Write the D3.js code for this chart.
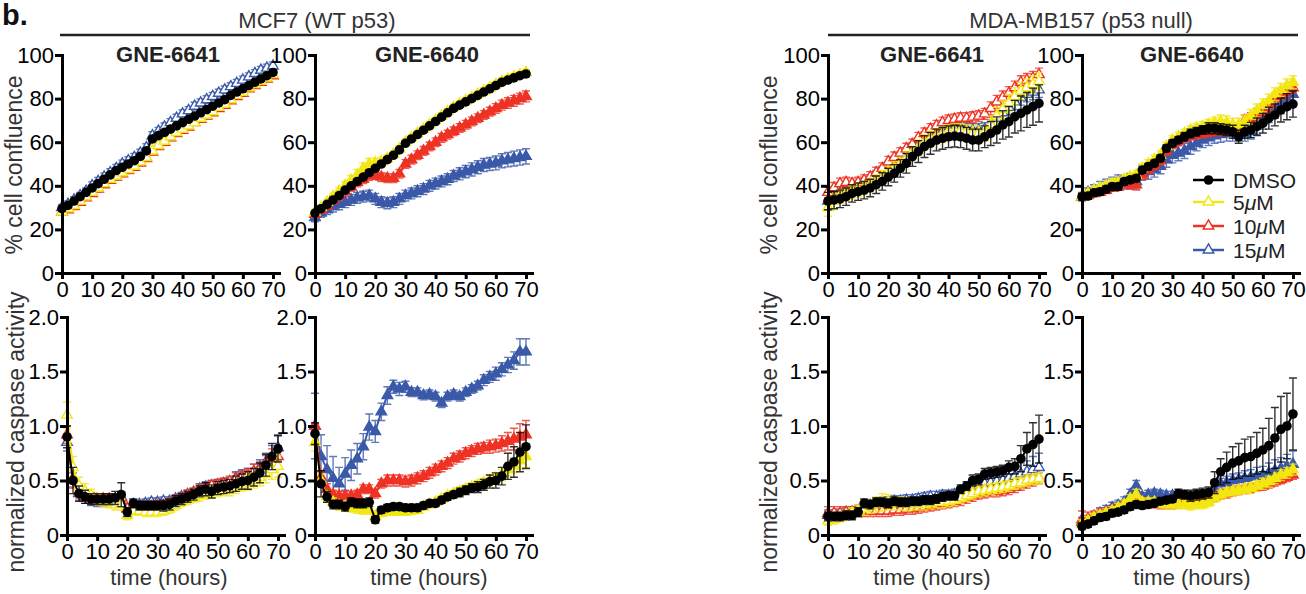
<!DOCTYPE html>
<html><head><meta charset="utf-8">
<script src="https://cdn.jsdelivr.net/npm/d3@7"></script>
<style>
body{margin:0;background:#fff;}
text{font-family:"Liberation Sans",Arial,Helvetica,sans-serif;}
</style></head><body>
<svg id="c" width="1306" height="594"></svg>
<script>
// ---------- shared labels ----------
const T = [0,2,4,6,8,10,12,14,16,18,20,22,24,26,28,30,32,34,36,38,40,42,44,46,48,50,52,54,56,58,60,62,64,66,68,70];
const seriesNames = ["DMSO","5μM","10μM","15μM"];
const seriesColors = ["#000000","#f3e711","#ee3224","#3a59a8"];
const groupTitles = ["MCF7 (WT p53)","MDA-MB157 (p53 null)"];
const compoundTitles = ["GNE-6641","GNE-6640","GNE-6641","GNE-6640"];
const confTicks = [0,20,40,60,80,100];
const caspTicks = [0,0.5,1.0,1.5,2.0];
const timeTicks = [0,10,20,30,40,50,60,70];

// ---------- MCF7 GNE-6641 confluence ----------
const m41cDMSO = [29.5,31,33,35,37,39,41,43,45,47,48.5,50,51.5,53.5,56,61.5,63,64.5,66,67.5,69,70.5,72,73.5,75,76.5,78,79.5,81.5,83,84.5,86,87.5,89,90.5,92];
const m41c5 = [28,29.5,31,33,35,37,39,41,43,44.5,46,47.5,49,51,53,56,58.5,60.5,62.5,64.5,66,67.5,69,71,72.5,74,76,77.5,79.5,81.5,83,85,86.5,88,89.5,91];
const m41c10 = [28,29,30.5,32.5,34.5,36.5,38.5,40.5,42.5,44,45.5,47,48.5,50.5,52.5,55.5,58,60,62,64,65.5,67,69,70.5,72,73.5,75.5,77,79,81,82.5,84.5,86,87.5,89,90.5];
const m41c15 = [30,31.5,33.5,35.5,37.5,40,42,44,46,48,50,51.5,53,55,57.5,63,65,67,69,71,73,74.5,76.5,78,79.5,81,82.5,84,85.5,87,88.5,90,91.5,93,94,95];
const m41cDMSOe = [1,1,1,1,1,1,1,1,1,1,1,1,1,1,1,1,1,1,1,1,1,1,1,1,1,1,1,1,1,1,1,1,1,1,1,1];
const m41c5e = [1.2,1.2,1.2,1.2,1.2,1.2,1.2,1.2,1.2,1.2,1.2,1.2,1.2,1.2,1.2,1.2,1.2,1.2,1.2,1.2,1.2,1.2,1.2,1.2,1.2,1.2,1.2,1.2,1.2,1.2,1.2,1.2,1.2,1.2,1.2,1.2];
const m41c10e = [1.2,1.2,1.2,1.2,1.2,1.2,1.2,1.2,1.2,1.2,1.2,1.2,1.2,1.2,1.2,1.2,1.2,1.2,1.2,1.2,1.2,1.2,1.2,1.2,1.2,1.2,1.2,1.2,1.2,1.2,1.2,1.2,1.2,1.2,1.2,1.2];
const m41c15e = [1.5,1.5,1.5,1.5,1.5,1.8,1.8,1.8,1.8,1.8,1.8,1.8,1.8,1.8,1.8,1.8,1.8,1.8,1.8,1.8,1.8,1.8,1.8,1.8,1.8,1.8,1.8,1.8,1.8,1.8,1.8,1.8,1.8,1.8,1.8,1.8];

// ---------- MCF7 GNE-6640 confluence ----------
const m40cDMSO = [27.5,29.5,31.5,33.5,35.5,38,40,42,44,46,48,50,52,54,56.5,59.5,61.5,63.5,65.5,67.5,69.5,71.5,73.5,75.5,77,78.5,80,81.5,83,84.5,86,87.5,88.5,89.5,90.5,91.3];
const m40c5 = [28,30,32.5,35,37.5,40,42.5,45,48,50,50.5,51,52.5,54.5,57,60,62,64,66,68,70,72,74,76,77.5,79,80.5,82,83.5,85,86.5,88,89,90,91,92];
const m40c10 = [27,29,31,33.5,35.5,37.5,39.5,41.5,43,44.5,45,44,43.5,43.5,45.5,50,52,54,56,58,60,62,63.5,65,66.5,68,69.5,71,72.5,74,75.5,77,78,79,80,81];
const m40c15 = [25.5,27.5,29,30.5,31.5,32.5,33.5,34.5,35,35.5,34,32.5,32,32.5,34,35.5,36.5,37.5,38.5,40,41,42,43,44.5,45.5,46.5,47.5,48.5,49.5,50,50.5,51.5,52,52.5,53,53.5];
const m40cDMSOe = [1,1,1,1,1,1,1,1,1,1,1,1,1,1,1,1,1,1,1,1,1,1,1,1,1,1,1,1,1,1,1,1,1,1,1,1.2];
const m40c5e = [1,1,1.2,1.5,1.8,2,2.2,2.5,2.5,2.5,2.2,2,1.8,1.5,1.5,1.5,1.5,1.5,1.5,1.5,1.5,1.5,1.5,1.5,1.5,1.5,1.5,1.5,1.5,1.5,1.5,1.5,1.5,1.5,1.5,1.5];
const m40c10e = [1.5,1.5,1.8,2,2,2,2,2,2,2,2,2,2,2,2,2,2,2,2,2,2,2,2,2,2,2,2,2,2,2,2.2,2.3,2.4,2.5,2.5,2.5];
const m40c15e = [2,2,2.2,2.5,2.5,2.5,2.5,2.5,2.5,2.5,2.5,2.5,2.5,2.5,2.5,2.5,2.5,2.5,2.5,2.5,2.5,2.5,2.5,2.5,2.8,2.8,3,3,3,3,3.2,3.2,3.3,3.4,3.5,3.5];

// ---------- MCF7 GNE-6641 caspase ----------
const m41kDMSO = [0.9,0.5,0.38,0.35,0.33,0.33,0.33,0.33,0.34,0.37,0.21,0.29,0.27,0.27,0.27,0.27,0.27,0.28,0.31,0.33,0.35,0.37,0.4,0.42,0.4,0.43,0.44,0.45,0.47,0.49,0.5,0.53,0.57,0.64,0.72,0.79];
const m41k5 = [1.1,0.62,0.45,0.4,0.36,0.33,0.31,0.3,0.28,0.28,0.18,0.22,0.22,0.21,0.21,0.21,0.22,0.24,0.27,0.3,0.32,0.34,0.36,0.38,0.39,0.4,0.41,0.42,0.44,0.46,0.48,0.5,0.53,0.56,0.6,0.63];
const m41k10 = [0.92,0.52,0.4,0.36,0.34,0.33,0.33,0.33,0.33,0.34,0.24,0.27,0.26,0.26,0.26,0.27,0.27,0.29,0.32,0.34,0.37,0.39,0.41,0.43,0.45,0.46,0.47,0.49,0.51,0.53,0.55,0.58,0.6,0.65,0.7,0.72];
const m41k15 = [0.85,0.5,0.38,0.34,0.32,0.31,0.31,0.32,0.33,0.35,0.24,0.28,0.28,0.29,0.3,0.3,0.31,0.31,0.33,0.35,0.37,0.39,0.42,0.44,0.45,0.46,0.47,0.48,0.52,0.54,0.55,0.58,0.62,0.67,0.72,0.8];
const m41kDMSOe = [0.1,0.12,0.07,0.06,0.05,0.05,0.05,0.05,0.06,0.11,0.04,0.04,0.04,0.04,0.04,0.04,0.05,0.05,0.05,0.05,0.05,0.05,0.05,0.06,0.06,0.06,0.06,0.06,0.07,0.07,0.08,0.08,0.09,0.1,0.12,0.12];
const m41k5e = [0.12,0.1,0.08,0.07,0.06,0.05,0.05,0.05,0.05,0.05,0.04,0.04,0.04,0.04,0.04,0.04,0.04,0.04,0.04,0.04,0.04,0.04,0.05,0.05,0.05,0.05,0.05,0.06,0.06,0.06,0.07,0.07,0.08,0.08,0.09,0.1];
const m41k10e = [0.08,0.08,0.06,0.05,0.05,0.05,0.05,0.05,0.05,0.05,0.04,0.04,0.04,0.04,0.04,0.04,0.04,0.04,0.04,0.04,0.04,0.04,0.05,0.05,0.05,0.05,0.05,0.05,0.06,0.06,0.06,0.07,0.07,0.08,0.09,0.1];
const m41k15e = [0.08,0.07,0.06,0.05,0.05,0.05,0.05,0.05,0.05,0.05,0.04,0.04,0.04,0.04,0.04,0.04,0.04,0.04,0.04,0.04,0.04,0.04,0.05,0.05,0.05,0.05,0.05,0.05,0.06,0.06,0.06,0.07,0.07,0.08,0.1,0.12];

// ---------- MCF7 GNE-6640 caspase ----------
const m40kDMSO = [0.93,0.47,0.35,0.28,0.28,0.26,0.3,0.29,0.29,0.3,0.14,0.23,0.25,0.26,0.26,0.25,0.25,0.25,0.27,0.29,0.29,0.32,0.35,0.37,0.39,0.41,0.43,0.44,0.46,0.49,0.5,0.54,0.63,0.67,0.76,0.81];
const m40k5 = [0.85,0.5,0.35,0.3,0.27,0.26,0.25,0.24,0.23,0.23,0.17,0.2,0.21,0.21,0.21,0.21,0.22,0.23,0.26,0.28,0.3,0.33,0.36,0.38,0.4,0.42,0.44,0.46,0.48,0.5,0.52,0.55,0.6,0.64,0.68,0.72];
const m40k10 = [1.0,0.53,0.42,0.37,0.36,0.36,0.36,0.37,0.42,0.42,0.38,0.47,0.5,0.5,0.5,0.49,0.5,0.52,0.54,0.57,0.6,0.63,0.66,0.7,0.72,0.75,0.77,0.79,0.8,0.81,0.82,0.84,0.86,0.88,0.9,0.92];
const m40k15 = [1.0,0.72,0.6,0.52,0.47,0.56,0.64,0.7,0.81,0.99,0.95,1.13,1.28,1.36,1.34,1.36,1.31,1.31,1.28,1.29,1.27,1.21,1.27,1.29,1.27,1.31,1.34,1.37,1.42,1.45,1.48,1.52,1.56,1.6,1.68,1.68];
const m40kDMSOe = [0.1,0.12,0.05,0.04,0.04,0.04,0.04,0.04,0.04,0.04,0.03,0.03,0.03,0.03,0.03,0.03,0.03,0.03,0.03,0.03,0.03,0.03,0.03,0.03,0.04,0.04,0.04,0.05,0.05,0.06,0.07,0.08,0.12,0.14,0.18,0.2];
const m40k5e = [0.08,0.06,0.05,0.04,0.04,0.04,0.04,0.04,0.04,0.04,0.03,0.03,0.03,0.03,0.03,0.03,0.03,0.03,0.03,0.03,0.03,0.03,0.03,0.03,0.04,0.04,0.04,0.04,0.04,0.05,0.05,0.05,0.06,0.07,0.08,0.1];
const m40k10e = [0.02,0.05,0.05,0.04,0.04,0.04,0.04,0.04,0.04,0.04,0.04,0.04,0.05,0.05,0.05,0.05,0.05,0.05,0.05,0.05,0.05,0.05,0.05,0.05,0.05,0.05,0.05,0.05,0.05,0.06,0.06,0.07,0.08,0.1,0.12,0.13];
const m40k15e = [0.3,0.2,0.22,0.2,0.15,0.15,0.14,0.14,0.12,0.12,0.1,0.08,0.08,0.06,0.06,0.05,0.04,0.04,0.04,0.04,0.04,0.04,0.04,0.04,0.04,0.04,0.04,0.04,0.05,0.05,0.06,0.06,0.07,0.08,0.12,0.12];

// ---------- MDA-MB157 GNE-6641 confluence ----------
const d41cDMSO = [33,33.5,34,35,36.5,37.3,38,39,40.5,42,44,45.7,48,50.3,53.4,55.7,58,59.5,61,61.8,62.5,62.8,62.5,61.8,61,61,62.5,64,65.6,67.9,69.4,71.7,73.2,74.8,76.3,77.8];
const d41c5 = [30,33,35,36,37,38,39,40.5,42,44,46,48,50,52.5,55,57.5,60,61.5,62.5,63.5,64.5,65,65,64.5,64,64,64,68,72,75,78,81,83.5,85,86.5,88];
const d41c10 = [37,39,41,41.5,41,41.5,42.5,44,46,48,51,53,55,57,59,62,64,66,67.5,69,70,70.5,71,71,71.5,72,73,75.5,78.5,80.5,82.5,85,87.5,88.5,89.5,91];
const d41c15 = [33,35,36.5,37.5,38.5,39.5,40.5,42,44,46,48,50,52,54,56.5,59,61.5,63,64,65,66,66.5,66.5,66,65.5,65.5,66,68,71,73.5,76,78.5,80.5,82,83,84];
const d41cDMSOe = [4,4,4,4,4,4,4,4,4,4,4,4,4,4.5,4.5,5,5,5,5,5,5,5,5,5,5,5,5,5.5,6,6.5,7,7.5,8,8,8.5,8.5];
const d41c5e = [4,3.5,3,3,3,3,3,3,3,3,3,3,3,3,3,3.5,3.5,3.5,3.5,3.5,3.5,3.5,3.5,3.5,3.5,3.5,3.5,4,4,4,4,4,4,4,4,4];
const d41c10e = [2.5,2.5,2.5,2.5,2.5,2.5,2.5,2.5,2.5,2.5,2.5,2.5,2.5,2.5,2.5,2.5,2.5,2.5,2.5,2.5,2.5,2.5,2.5,2.5,2.5,2.5,2.5,3,3,3,3,3,3,3,3,3];
const d41c15e = [3,3,3,3,3,3,3,3,3,3,3,3,3,3,3,3,3,3,3,3,3,3,3,3,3,3,3,3.5,3.5,3.5,3.5,3.5,3.5,3.5,3.5,3.5];

// ---------- MDA-MB157 GNE-6640 confluence ----------
const d40cDMSO = [35,35.3,36.8,37.3,38.4,39.6,39.6,41.9,42.7,43.4,47.2,48.8,50.3,52.6,57.2,59.5,61,62.5,64,64.8,65.6,66.4,66.4,66,65.6,64.8,62.5,64.8,65.6,67.1,68.7,71,72.5,74.8,76.3,77.5];
const d40c5 = [35,36.5,38,39,40,41,41.5,43,44,45,48,50,52,54,58,61,62.5,64,65.5,66.5,67,68,69,69.5,69,68,68,69.5,72,74.5,77,79,82,84,86,87.5];
const d40c10 = [35,35.5,36.5,37,38,39,39.5,41,40.5,40.5,45,47.5,49.5,51.5,56,59,60.5,62,63,63.5,64,64.5,65,65,65,65,66,70,71,73,75,77,80,82,83.5,85];
const d40c15 = [35,37,38,39,40,41,42,41.5,42,42,46,46.5,47.5,49,52,54,55,56,58,59.5,61,62,63,63.5,64,64,64,64,65,67.5,70,73,75,78,80,82];
const d40cDMSOe = [1.5,1.5,1.5,1.5,1.5,1.5,1.5,1.5,1.5,1.5,1.5,1.5,1.5,1.5,1.5,1.5,1.5,2,2,2,2,2.5,2.5,2.5,2.5,3,3,3,3.5,4,4.5,5,5,5.5,6,6];
const d40c5e = [1.5,1.5,1.5,1.5,1.5,2,2,2,2,2,2,2,2,2,2,2,2,2,2,2,2.5,2.5,2.5,3,3,3,3,3,3,3,3,3,3,3,3,3];
const d40c10e = [1.5,1.5,1.5,1.5,1.5,1.5,1.5,1.5,2,2.5,2,2,2,2,2,2,2,2,2,2,2,2,2,2,2,2,2,2.5,2.5,2.5,2.5,2.5,2.5,2.5,2.5,2.5];
const d40c15e = [2,2,2.5,3,3,3,3,3,3.5,3.5,3.5,3.5,3.5,3.5,3.5,3.5,3.5,3.5,3.5,3.5,3.5,3.5,3.5,3.5,3.5,3.5,3.5,3.5,3.5,4,4,4,4,5,5,5];

// ---------- MDA-MB157 GNE-6641 caspase ----------
const d41kDMSO = [0.17,0.17,0.17,0.18,0.18,0.21,0.29,0.28,0.3,0.3,0.29,0.31,0.3,0.3,0.31,0.31,0.32,0.32,0.33,0.35,0.36,0.36,0.42,0.45,0.5,0.51,0.56,0.57,0.58,0.59,0.62,0.63,0.7,0.79,0.83,0.88];
const d41k5 = [0.13,0.14,0.16,0.18,0.2,0.22,0.24,0.26,0.28,0.3,0.3,0.29,0.29,0.28,0.28,0.28,0.28,0.29,0.3,0.3,0.31,0.32,0.34,0.36,0.38,0.4,0.41,0.42,0.43,0.44,0.45,0.47,0.48,0.5,0.51,0.52];
const d41k10 = [0.2,0.2,0.2,0.21,0.21,0.22,0.22,0.22,0.22,0.22,0.22,0.23,0.23,0.24,0.24,0.25,0.26,0.27,0.28,0.29,0.3,0.31,0.32,0.34,0.36,0.38,0.39,0.4,0.4,0.41,0.42,0.44,0.46,0.48,0.5,0.52];
const d41k15 = [0.18,0.18,0.19,0.2,0.21,0.22,0.25,0.27,0.29,0.3,0.3,0.31,0.31,0.32,0.32,0.33,0.34,0.35,0.35,0.36,0.36,0.37,0.38,0.41,0.43,0.45,0.47,0.48,0.49,0.5,0.52,0.54,0.56,0.58,0.6,0.62];
const d41kDMSOe = [0.04,0.04,0.04,0.04,0.04,0.04,0.04,0.04,0.04,0.04,0.04,0.04,0.04,0.04,0.04,0.04,0.04,0.04,0.04,0.04,0.04,0.04,0.04,0.04,0.05,0.05,0.05,0.05,0.05,0.05,0.06,0.07,0.12,0.15,0.2,0.22];
const d41k5e = [0.04,0.04,0.04,0.04,0.05,0.05,0.06,0.06,0.07,0.08,0.07,0.06,0.06,0.06,0.05,0.05,0.05,0.05,0.05,0.05,0.05,0.05,0.05,0.05,0.05,0.05,0.05,0.05,0.05,0.05,0.05,0.05,0.05,0.05,0.05,0.05];
const d41k10e = [0.06,0.06,0.06,0.05,0.05,0.05,0.05,0.05,0.05,0.05,0.05,0.05,0.05,0.05,0.05,0.05,0.05,0.05,0.05,0.05,0.05,0.05,0.05,0.05,0.05,0.05,0.05,0.05,0.05,0.05,0.05,0.05,0.05,0.05,0.05,0.05];
const d41k15e = [0.05,0.05,0.05,0.05,0.05,0.05,0.05,0.05,0.05,0.05,0.05,0.05,0.05,0.05,0.05,0.05,0.05,0.05,0.05,0.05,0.05,0.05,0.05,0.05,0.05,0.05,0.05,0.06,0.06,0.06,0.07,0.08,0.1,0.1,0.12,0.13];

// ---------- MDA-MB157 GNE-6640 caspase ----------
const d40kDMSO = [0.08,0.1,0.13,0.16,0.17,0.2,0.21,0.23,0.26,0.28,0.27,0.28,0.29,0.31,0.32,0.33,0.38,0.37,0.36,0.37,0.38,0.39,0.48,0.58,0.62,0.66,0.68,0.71,0.72,0.75,0.78,0.82,0.89,0.97,1.0,1.11];
const d40k5 = [0.1,0.13,0.16,0.18,0.2,0.22,0.25,0.28,0.33,0.37,0.3,0.3,0.3,0.29,0.28,0.28,0.28,0.28,0.27,0.28,0.28,0.3,0.34,0.37,0.39,0.4,0.41,0.42,0.43,0.45,0.47,0.49,0.52,0.55,0.57,0.6];
const d40k10 = [0.14,0.15,0.17,0.19,0.2,0.22,0.24,0.26,0.29,0.3,0.3,0.29,0.29,0.28,0.28,0.28,0.29,0.3,0.31,0.31,0.32,0.33,0.35,0.37,0.38,0.4,0.41,0.42,0.43,0.44,0.45,0.47,0.49,0.51,0.53,0.55];
const d40k15 = [0.12,0.14,0.17,0.2,0.22,0.25,0.27,0.3,0.37,0.45,0.35,0.37,0.38,0.37,0.36,0.36,0.35,0.35,0.34,0.35,0.36,0.37,0.42,0.47,0.48,0.5,0.51,0.52,0.53,0.54,0.55,0.57,0.59,0.61,0.63,0.65];
const d40kDMSOe = [0.03,0.03,0.03,0.03,0.03,0.03,0.03,0.03,0.03,0.03,0.03,0.03,0.03,0.03,0.03,0.03,0.04,0.04,0.05,0.05,0.05,0.05,0.1,0.12,0.14,0.15,0.16,0.17,0.18,0.19,0.2,0.25,0.28,0.3,0.3,0.33];
const d40k5e = [0.04,0.04,0.04,0.04,0.04,0.04,0.04,0.04,0.04,0.05,0.04,0.04,0.04,0.04,0.04,0.04,0.04,0.04,0.04,0.04,0.04,0.04,0.04,0.04,0.04,0.04,0.04,0.04,0.05,0.05,0.05,0.05,0.05,0.05,0.05,0.05];
const d40k10e = [0.08,0.06,0.05,0.05,0.05,0.05,0.05,0.05,0.05,0.05,0.04,0.04,0.04,0.04,0.04,0.04,0.04,0.04,0.04,0.04,0.04,0.04,0.04,0.04,0.04,0.04,0.04,0.04,0.04,0.04,0.04,0.04,0.04,0.04,0.04,0.04];
const d40k15e = [0.04,0.04,0.04,0.05,0.05,0.05,0.05,0.05,0.05,0.05,0.04,0.04,0.04,0.04,0.04,0.04,0.04,0.04,0.04,0.04,0.04,0.04,0.05,0.05,0.06,0.06,0.06,0.07,0.07,0.08,0.08,0.09,0.1,0.1,0.11,0.12];

// ---------- layout ----------
const svg = d3.select("#c");
const topX0 = [62, 315, 828, 1082];
const botX0 = [67, 315, 828, 1082];
const titleCx = [168, 427, 932, 1192];
const timeCx = [169, 429, 932, 1192];
const plotW = 217; // 0..72 h
const confY = [273, 55];
const caspY = [535, 317];
const FONT = 22;

const panels = [
  {c:0,row:0,vals:[m41cDMSO,m41c5,m41c10,m41c15],errs:[m41cDMSOe,m41c5e,m41c10e,m41c15e],filled:false},
  {c:1,row:0,vals:[m40cDMSO,m40c5,m40c10,m40c15],errs:[m40cDMSOe,m40c5e,m40c10e,m40c15e],filled:true},
  {c:2,row:0,vals:[d41cDMSO,d41c5,d41c10,d41c15],errs:[d41cDMSOe,d41c5e,d41c10e,d41c15e],filled:false},
  {c:3,row:0,vals:[d40cDMSO,d40c5,d40c10,d40c15],errs:[d40cDMSOe,d40c5e,d40c10e,d40c15e],filled:true},
  {c:0,row:1,vals:[m41kDMSO,m41k5,m41k10,m41k15],errs:[m41kDMSOe,m41k5e,m41k10e,m41k15e],filled:false},
  {c:1,row:1,vals:[m40kDMSO,m40k5,m40k10,m40k15],errs:[m40kDMSOe,m40k5e,m40k10e,m40k15e],filled:true},
  {c:2,row:1,vals:[d41kDMSO,d41k5,d41k10,d41k15],errs:[d41kDMSOe,d41k5e,d41k10e,d41k15e],filled:false},
  {c:3,row:1,vals:[d40kDMSO,d40k5,d40k10,d40k15],errs:[d40kDMSOe,d40k5e,d40k10e,d40k15e],filled:true}
];

const tri = d3.symbol().type(d3.symbolTriangle).size(48);

function drawMarker(g, si, cx, cy, filled) {
  const col = seriesColors[si];
  if (si === 0) {
    g.append("circle").attr("cx", cx).attr("cy", cy).attr("r", 4.8).attr("fill", col);
  } else {
    g.append("path").attr("d", tri()).attr("transform", `translate(${cx},${cy})`)
      .attr("fill", filled ? col : "white").attr("stroke", col).attr("stroke-width", 1.4);
  }
}

function drawPanel(p) {
  const x0 = p.row === 0 ? topX0[p.c] : botX0[p.c];
  const x = d3.scaleLinear().domain([0, 72]).range([x0, x0 + plotW]);
  const y = p.row === 0 ? d3.scaleLinear().domain([0, 100]).range(confY)
                        : d3.scaleLinear().domain([0, 2]).range(caspY);
  const g = svg.append("g");

  // series: blue, red, yellow, black (black on top)
  [3, 2, 1, 0].forEach(si => {
    const col = seriesColors[si];
    const pts = T.map((t, i) => ({ t, v: p.vals[si][i], e: p.errs[si][i] }));
    const eb = g.append("g").attr("stroke", col).attr("stroke-width", 1.4).attr("fill", "none").attr("opacity", 0.8);
    pts.forEach(d => {
      const xx = x(d.t), y1 = y(d.v + d.e), y2 = y(Math.max(0, d.v - d.e));
      eb.append("path").attr("d", `M${xx},${y1}V${y2}M${xx - 4},${y1}H${xx + 4}M${xx - 4},${y2}H${xx + 4}`);
    });
    g.append("path").datum(pts)
      .attr("d", d3.line().x(d => x(d.t)).y(d => y(d.v)))
      .attr("fill", "none").attr("stroke", col).attr("stroke-width", 2);
    const mg = g.append("g");
    pts.forEach(d => drawMarker(mg, si, x(d.t), y(d.v), p.filled));
  });

  // axes
  const ya = d3.axisLeft(y)
    .tickValues(p.row === 0 ? confTicks : caspTicks)
    .tickSize(7).tickSizeOuter(0).tickPadding(1)
    .tickFormat(p.row === 0 ? d3.format("d") : (d => d === 0 ? "0" : d3.format(".1f")(d)));
  const xa = d3.axisBottom(x).tickValues(timeTicks).tickSize(6).tickSizeOuter(0).tickPadding(2)
    .tickFormat(d3.format("d"));
  const yg = g.append("g").attr("transform", `translate(${x0},0)`).call(ya);
  const xg = g.append("g").attr("transform", `translate(0,${y.range()[0]})`).call(xa);
  [yg, xg].forEach(a => {
    a.select(".domain").attr("stroke", "#000").attr("stroke-width", 3).attr("stroke-linecap", "square");
    a.selectAll(".tick line").attr("stroke", "#000").attr("stroke-width", 3);
    a.selectAll(".tick text").attr("font-size", FONT).attr("fill", "#000")
      .attr("font-family", '"Liberation Sans", Arial, sans-serif');
  });

  // titles
  if (p.row === 0) {
    svg.append("text").attr("x", titleCx[p.c]).attr("y", 62).attr("text-anchor", "middle")
      .attr("font-size", 22).attr("font-weight", "bold").attr("fill", "#222").text(compoundTitles[p.c]);
  } else {
    svg.append("text").attr("x", timeCx[p.c]).attr("y", 585).attr("text-anchor", "middle")
      .attr("font-size", 22).attr("fill", "#333").text("time (hours)");
  }
}

panels.forEach(drawPanel);

// y axis titles
const yLab = [
  {x: 22, y: 165, t: "% cell confluence"},
  {x: 24, y: 432, t: "normalized caspase activity"},
  {x: 777, y: 165, t: "% cell confluence"},
  {x: 777, y: 432, t: "normalized caspase activity"}
];
yLab.forEach(l => {
  svg.append("text").attr("transform", `translate(${l.x},${l.y}) rotate(-90)`)
    .attr("text-anchor", "middle").attr("font-size", 23).attr("fill", "#333").text(l.t);
});

// group headers
svg.append("text").attr("x", 2).attr("y", 25).attr("font-size", 29).attr("font-weight", "bold").attr("fill", "#111").text("b.");
const heads = [{cx: 317, x1: 60, x2: 530}, {cx: 1081, x1: 828, x2: 1298}];
heads.forEach((h, i) => {
  svg.append("text").attr("x", h.cx).attr("y", 28).attr("text-anchor", "middle")
    .attr("font-size", 22).attr("fill", "#333").text(groupTitles[i]);
  svg.append("line").attr("x1", h.x1).attr("x2", h.x2).attr("y1", 35).attr("y2", 35)
    .attr("stroke", "#222").attr("stroke-width", 2.5);
});

// legend (in MDA-MB157 GNE-6640 confluence panel)
const legY = [180, 202, 226, 250];
const lg = svg.append("g");
seriesNames.forEach((n, i) => {
  const col = seriesColors[i];
  lg.append("line").attr("x1", 1193).attr("x2", 1224).attr("y1", legY[i]).attr("y2", legY[i])
    .attr("stroke", col).attr("stroke-width", 2.5);
  drawMarker(lg, i, 1208.5, legY[i], false);
  const t = lg.append("text").attr("x", 1233).attr("y", legY[i] + 7.5).attr("font-size", 21).attr("fill", "#222");
  if (i === 0) t.text(n);
  else {
    const num = n.replace("μM", "");
    t.append("tspan").text(num);
    t.append("tspan").attr("font-style", "italic").text("μ");
    t.append("tspan").text("M");
  }
});
</script></body></html>
